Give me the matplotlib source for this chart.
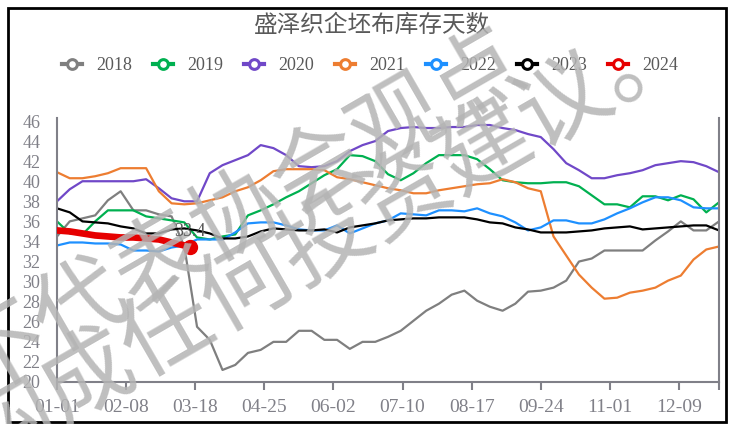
import matplotlib

matplotlib.use("Agg")
import matplotlib.pyplot as plt
import numpy as np
from matplotlib.lines import Line2D
from matplotlib.patches import Rectangle

# weekly readings, day 0 = 01-01
days = np.arange(0, 365, 7)
tick_days = np.arange(0, 365, 38)
tick_labels = ["01-01", "02-08", "03-18", "04-25", "06-02",
               "07-10", "08-17", "09-24", "11-01", "12-09"]

s2018 = [34.5, 36.0, 36.3, 36.6, 38.1, 39.0, 37.1, 37.1, 36.7, 36.5,
         33.5, 25.5, 24.2, 21.2, 21.7, 22.9, 23.2, 24.0, 24.0, 25.1,
         25.1, 24.2, 24.2, 23.3, 24.0, 24.0, 24.5, 25.1, 26.1, 27.1,
         27.8, 28.7, 29.1, 28.1, 27.5, 27.1, 27.8, 29.0, 29.1, 29.4,
         30.1, 32.0, 32.3, 33.1, 33.1, 33.1, 33.1, 34.1, 35.0, 36.0,
         35.1, 35.1, 36.0]
s2019 = [36.0, 34.8, 34.7, 36.0, 37.1, 37.1, 37.1, 36.5, 36.3, 36.1,
         35.9, 34.4, 34.2, 34.5, 34.7, 36.6, 37.1, 37.7, 38.4, 39.0,
         39.8, 40.6, 41.2, 42.6, 42.5, 42.0, 40.7, 40.1, 40.8, 41.8,
         42.6, 42.6, 42.6, 42.2, 41.2, 40.1, 39.9, 39.8, 39.8, 39.9,
         39.9, 39.5, 38.6, 37.7, 37.7, 37.4, 38.5, 38.5, 38.1, 38.6,
         38.2, 36.9, 37.9]
s2020 = [38.0, 39.2, 40.0, 40.0, 40.0, 40.0, 40.0, 40.2, 39.3, 38.3,
         38.0, 38.0, 40.8, 41.6, 42.1, 42.6, 43.6, 43.3, 42.6, 41.5,
         41.4, 41.5, 42.0, 43.0, 43.6, 44.0, 45.0, 45.3, 45.4, 45.3,
         45.3, 45.4, 45.4, 45.6, 45.6, 45.3, 45.1, 44.7, 44.4, 43.2,
         41.8, 41.1, 40.3, 40.3, 40.6, 40.8, 41.1, 41.6, 41.8, 42.0,
         41.9, 41.5, 40.9]
s2021 = [40.9, 40.3, 40.3, 40.5, 40.8, 41.3, 41.3, 41.3, 39.0, 37.8,
         37.7, 37.8, 38.1, 38.4, 39.0, 39.4, 40.1, 41.0, 41.2, 41.2,
         41.2, 41.1, 40.4, 40.2, 39.9, 39.6, 39.3, 39.1, 38.8, 38.8,
         39.1, 39.3, 39.5, 39.7, 39.8, 40.2, 39.9, 39.3, 39.0, 34.5,
         32.6, 30.7, 29.4, 28.3, 28.4, 28.9, 29.1, 29.4, 30.1, 30.6,
         32.2, 33.2, 33.5]
s2022 = [33.6, 33.9, 33.9, 33.8, 33.8, 33.7, 33.1, 33.1, 33.0, 33.4,
         33.6, 34.2, 34.2, 34.2, 34.9, 35.8, 35.9, 35.9, 35.6, 35.2,
         35.1, 35.1, 35.6, 34.8, 35.3, 35.8, 36.1, 36.8, 36.7, 36.6,
         37.1, 37.1, 37.0, 37.3, 36.8, 36.5, 35.9, 35.1, 35.4, 36.1,
         36.1, 35.8, 35.8, 36.2, 36.8, 37.3, 37.9, 38.4, 38.4, 38.1,
         37.4, 37.3, 37.3]
s2023 = [37.3, 36.9, 36.0, 35.9, 35.8, 35.5, 35.3, 34.8, 34.8, 35.2,
         35.3, 35.1, 34.8, 34.3, 34.3, 34.5, 35.0, 35.3, 35.2, 35.1,
         35.1, 35.2, 34.9, 35.4, 35.6, 35.8, 36.1, 36.2, 36.3, 36.3,
         36.4, 36.4, 36.4, 36.2, 35.9, 35.8, 35.4, 35.2, 34.9, 34.9,
         34.9, 35.0, 35.1, 35.3, 35.4, 35.5, 35.2, 35.3, 35.4, 35.5,
         35.6, 35.6, 35.1]
days_2024 = [0, 7, 14, 21, 28, 35, 42, 49, 56, 63, 70, 73]
s2024 = [35.1, 35.0, 34.8, 34.6, 34.5, 34.4, 34.4, 34.3, 34.2, 33.9, 33.6, 33.4]

years = ["2018", "2019", "2020", "2021", "2022", "2023", "2024"]
colors = ["#7f7f7f", "#00b050", "#7048c8", "#ed7d31", "#1e90ff", "#000000", "#e60000"]

GRAY = "#808088"
NUM_FONT = "Liberation Serif"
CJK = ["Noto Sans CJK SC", "DejaVu Sans"]

fig = plt.figure(figsize=(7.34, 4.24), dpi=100)
W, H = 734, 424
ax = fig.add_axes([57 / W, 1 - 382 / H, (719 - 57) / W, (382 - 118) / H])

for col, vals in zip(colors[:-1], [s2018, s2019, s2020, s2021, s2022, s2023]):
    ax.plot(days, vals, color=col, lw=1.6, zorder=2)
ax.plot(days_2024, s2024, color=colors[-1], lw=4.8, solid_capstyle="round", zorder=4)
ax.plot(days_2024[-1], s2024[-1], "o", color=colors[-1], ms=10, zorder=5)

ax.set_xlim(0, 364)
ax.set_ylim(20, 46.3)
ax.set_yticks(np.arange(20, 47, 2))
ax.set_xticks(list(tick_days) + [364])
ax.set_xticklabels(tick_labels + [""])
for lab in ax.get_xticklabels() + ax.get_yticklabels():
    lab.set_family(NUM_FONT)
ax.tick_params(axis="x", direction="out", length=6, width=1.5, color=GRAY,
               labelsize=14, labelcolor=GRAY, pad=6)
ax.tick_params(axis="y", length=0, labelsize=13, labelcolor=GRAY, pad=12)
ax.spines["top"].set_visible(False)
for side in ("left", "right", "bottom"):
    ax.spines[side].set_color(GRAY)
    ax.spines[side].set_linewidth(1.5)

fig.text(372 / W, 1 - 25 / H, "盛泽织企坯布库存天数", ha="center", va="center",
         fontsize=17, color="#595959", family=CJK, fontweight="light")

handles = [Line2D([], [], color=c, lw=3, marker="o", ms=7, mfc="white", mew=2.2)
           for c in colors]
fig.legend(handles, years, loc="center", bbox_to_anchor=(370 / W, 1 - 66 / H), ncol=7,
           frameon=False, handlelength=1.1, handletextpad=0.8, columnspacing=1.15,
           prop={"family": NUM_FONT, "size": 13}, labelcolor="#595959")

# watermark
wm = dict(ha="center", va="center", rotation=30, rotation_mode="anchor",
          fontsize=66, color="#b4b4b4", alpha=0.85, family=CJK, zorder=10)
fig.text(240 / W, 1 - 215 / H, "不代表协会观点", **wm)
fig.text(288 / W, 1 - 262 / H, "不构成任何投资建议。", **wm)

# last-value label sits above the watermark
fig.text(days_2024[-1], s2024[-1] + 1.6, f"{s2024[-1]:.1f}", transform=ax.transData,
         ha="center", va="center", fontsize=13, color="#595959", family=NUM_FONT, zorder=11)

fig.patches.append(Rectangle((8 / W, 2 / H), (726 - 8) / W, (416 - 2) / H,
                             transform=fig.transFigure, fill=False, lw=2, ec="black"))

fig.savefig("out.png", dpi=100)
